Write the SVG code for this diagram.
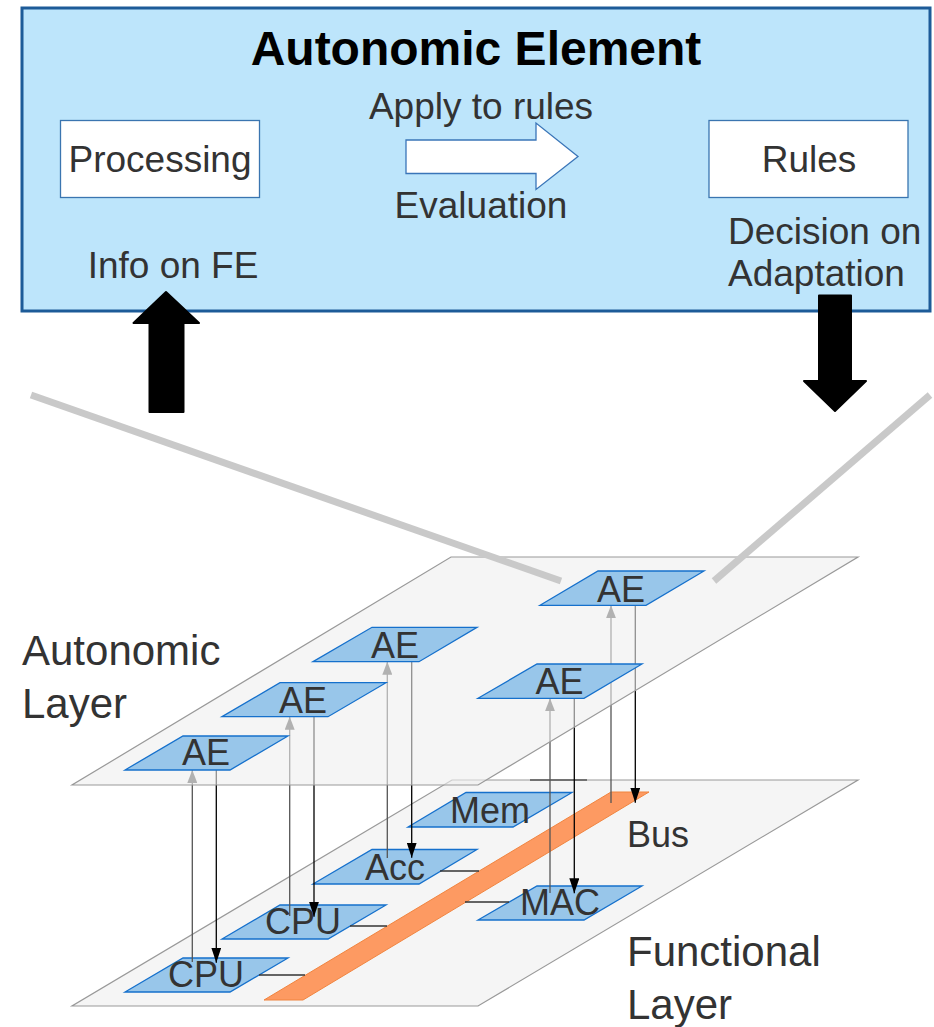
<svg xmlns="http://www.w3.org/2000/svg" width="934" height="1027" viewBox="0 0 934 1027">
  <style>
    .txt { font-family: "Liberation Sans", Arial, sans-serif; fill: #333; }
    .big { font-size: 37px; }
    .lbl { font-size: 36px; text-anchor: middle; }
    .layer-lbl { font-size: 42px; }
    .title { font-family: "Liberation Sans", Arial, sans-serif; font-size: 48px; font-weight: bold; fill: #000; text-anchor: middle; }
    .box { fill: #ffffff; stroke: #3a75b0; stroke-width: 1.3; }
    .node { fill: #98c6ea; stroke: #1570cc; stroke-width: 1.3; }
    .layer { fill: #f5f5f5; stroke: #999; stroke-width: 1.2; }
    .up { stroke: #555; stroke-width: 1.3; fill: none; marker-end: url(#headUp); }
    .down { stroke: #000; stroke-width: 1.3; fill: none; marker-end: url(#headDown); }
    .link { stroke: #333; stroke-width: 1.3; }
    .fat { fill: #000; stroke: #000; stroke-width: 2; stroke-linejoin: round; }
    .beam { stroke: #c9c9c9; stroke-width: 7; }
  </style>
  <defs>
    <marker id="headDown" markerUnits="userSpaceOnUse" markerWidth="15" markerHeight="10" refX="15" refY="5" orient="auto" viewBox="0 0 15 10">
      <path d="M0,0 L15,5 L0,10 z" fill="#000"/>
    </marker>
    <marker id="headUp" markerUnits="userSpaceOnUse" markerWidth="13" markerHeight="10" refX="13" refY="5" orient="auto" viewBox="0 0 13 10">
      <path d="M0,0 L13,5 L0,10 z" fill="#555"/>
    </marker>
  </defs>

  <!-- Autonomic element panel -->
  <g id="autonomic-element">
    <rect x="22" y="8" width="908" height="303" fill="#bde5fb" stroke="#1d5b98" stroke-width="3"/>
    <text class="title" x="476" y="65">Autonomic Element</text>
  </g>
  <g id="processing">
    <rect class="box" x="60.5" y="120.5" width="199" height="77"/>
    <text class="txt big" x="160" y="172" text-anchor="middle">Processing</text>
  </g>
  <g id="rules">
    <rect class="box" x="709" y="120.5" width="199" height="77"/>
    <text class="txt big" x="809" y="172" text-anchor="middle">Rules</text>
  </g>
  <g id="evaluation">
    <polygon points="406,140 536,140 536,123 578,156.5 536,189.5 536,173.5 406,173.5" fill="#fff" stroke="#3a75b8" stroke-width="1.3"/>
    <text class="txt big" x="481" y="119" text-anchor="middle">Apply to rules</text>
    <text class="txt big" x="481" y="218" text-anchor="middle">Evaluation</text>
  </g>
  <g id="info-on-fe">
    <text class="txt big" x="173" y="278" text-anchor="middle">Info on FE</text>
  </g>
  <g id="decision">
    <text class="txt big" x="728" y="244">Decision on</text>
    <text class="txt big" x="728" y="286">Adaptation</text>
  </g>

  <!-- Functional layer plane -->
  <g id="functional-layer">
    <polygon class="layer" points="452,780 858,780 478,1006 72,1006"/>
  </g>
  <g id="bus">
    <polygon points="264,1000 303,1000 649,792 611,792" fill="#fd9a62" stroke="#f0843f" stroke-width="1"/>
    <text class="txt lbl" x="658" y="847">Bus</text>
  </g>
  <g id="fn-cpu1">
    <polygon class="node" points="125,992 230,992 288,958 183,958"/>
    <text class="txt lbl" x="206" y="987">CPU</text>
  </g>
  <g id="fn-cpu2">
    <polygon class="node" points="222,939 328,939 386,905 280,905"/>
    <text class="txt lbl" x="303" y="934">CPU</text>
  </g>
  <g id="fn-acc">
    <polygon class="node" points="313,884 419,884 477,849.5 372,849.5"/>
    <text class="txt lbl" x="395" y="880">Acc</text>
  </g>
  <g id="fn-mem">
    <polygon class="node" points="408,827 513,827 572,792.5 466,792.5"/>
    <text class="txt lbl" x="490" y="823">Mem</text>
  </g>
  <g id="fn-mac">
    <polygon class="node" points="478,920 584,920 642,886 537,886"/>
    <text class="txt lbl" x="560" y="915">MAC</text>
  </g>

  <!-- Connectors between planes and to the bus -->
  <g id="connectors">
    <line class="link" x1="259" y1="975" x2="305" y2="975"/>
    <line class="link" x1="350" y1="926" x2="387" y2="926"/>
    <line class="link" x1="440" y1="871" x2="479" y2="871"/>
    <line class="link" x1="465" y1="902" x2="509" y2="902"/>
    <line x1="530" y1="780" x2="587" y2="780" stroke="#555" stroke-width="1.5"/>

    <line class="up" x1="192.3" y1="962" x2="192.3" y2="770"/>
    <line class="up" x1="289.7" y1="916" x2="289.7" y2="716.7"/>
    <line class="up" x1="387.3" y1="858" x2="387.3" y2="661.7"/>
    <line class="up" x1="550" y1="893" x2="550" y2="698.3"/>
    <line class="up" x1="611" y1="803" x2="611" y2="605.3"/>

    <line class="down" x1="216.3" y1="770" x2="216.3" y2="962.7"/>
    <line class="down" x1="314" y1="716.7" x2="314" y2="916.7"/>
    <line class="down" x1="411.7" y1="661.7" x2="411.7" y2="857.7"/>
    <line class="down" x1="574.3" y1="698.3" x2="574.3" y2="893.3"/>
    <line class="down" x1="635.3" y1="605.3" x2="635.3" y2="802.7"/>
  </g>

  <!-- Autonomic layer plane, translucent over the connectors -->
  <g id="autonomic-layer">
    <polygon points="451,557 858,557 478,785 72,785" fill="#efefef" fill-opacity="0.6" stroke="#999" stroke-width="1.2"/>
  </g>
  <g id="ae1">
    <polygon class="node" points="125,770 230,770 288,736 183,736"/>
    <text class="txt lbl" x="206" y="765">AE</text>
  </g>
  <g id="ae2">
    <polygon class="node" points="222,716.7 328,716.7 386,682.7 280,682.7"/>
    <text class="txt lbl" x="303" y="713">AE</text>
  </g>
  <g id="ae3">
    <polygon class="node" points="313,661.7 419,661.7 477,627.3 372,627.3"/>
    <text class="txt lbl" x="395" y="657.5">AE</text>
  </g>
  <g id="ae4">
    <polygon class="node" points="478,698.3 584,698.3 642,664 537,664"/>
    <text class="txt lbl" x="559.5" y="694">AE</text>
  </g>
  <g id="ae5">
    <polygon class="node" points="540,605.3 646,605.3 704,571 598,571"/>
    <text class="txt lbl" x="621" y="601.5">AE</text>
  </g>

  <!-- Zoom beams from the panel down to one AE -->
  <g id="beams">
    <line class="beam" x1="31" y1="395" x2="561" y2="581"/>
    <line class="beam" x1="930" y1="395" x2="714" y2="581"/>
  </g>

  <!-- Monitoring / adaptation arrows -->
  <g id="monitor-arrow">
    <polygon class="fat" points="166,292 199,323 183.5,323 183.5,412 149.5,412 149.5,323 133.5,323"/>
  </g>
  <g id="adapt-arrow">
    <polygon class="fat" points="819,295.5 851,295.5 851,381 866,381 835,411 804,381 819,381"/>
  </g>

  <!-- Plane labels -->
  <text class="txt layer-lbl" x="22" y="665">Autonomic</text>
  <text class="txt layer-lbl" x="22" y="718">Layer</text>
  <text class="txt layer-lbl" x="627" y="966">Functional</text>
  <text class="txt layer-lbl" x="627" y="1019">Layer</text>
</svg>
